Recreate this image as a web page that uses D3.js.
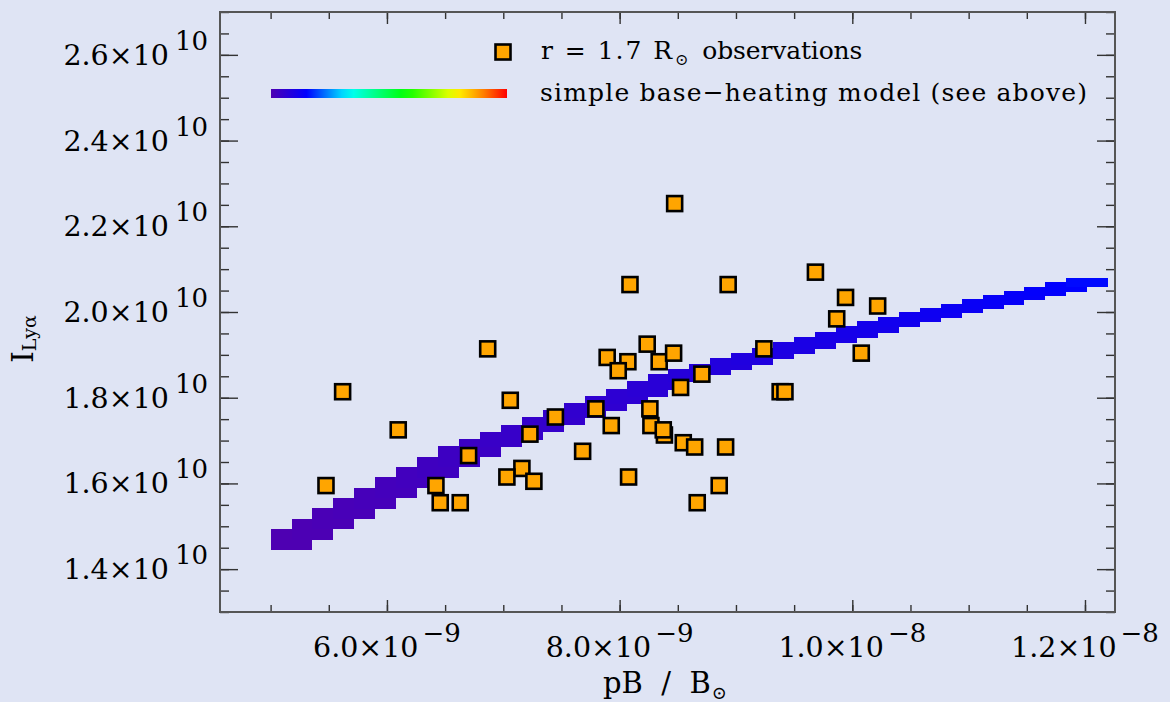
<!DOCTYPE html>
<html><head><meta charset="utf-8">
<script src="https://cdn.jsdelivr.net/npm/d3@7"></script>
<style>html,body{margin:0;padding:0;background:#dfe4f4;} svg{display:block;}</style>
</head><body>
<svg id="chart" width="1170" height="702"></svg>
<script>
// ---------- data ----------
// observations at r = 1.7 Rsun  (pB/Bsun, I_Lya)
const obsX = [6.866e-9,5.619e-9,7.060e-9,7.448e-9,6.097e-9,7.229e-9,6.702e-9,7.160e-9,7.031e-9,7.263e-9,
  5.476e-9,6.421e-9,6.458e-9,6.630e-9,8.473e-9,9.683e-9,8.089e-9,8.933e-9,9.942e-9,1.0218e-8,
  9.866e-9,9.240e-9,1.0077e-8,8.237e-9,7.893e-9,8.071e-9,7.988e-9,8.340e-9,8.464e-9,8.707e-9,
  8.524e-9,9.380e-9,9.421e-9,7.796e-9,8.260e-9,7.928e-9,8.269e-9,8.385e-9,8.375e-9,8.547e-9,
  8.645e-9,8.911e-9,7.682e-9,8.077e-9,8.856e-9,8.667e-9];
const obsY = [1.914e10,1.814e10,1.794e10,1.755e10,1.725e10,1.715e10,1.665e10,1.635e10,1.615e10,1.605e10,
  1.595e10,1.595e10,1.555e10,1.555e10,2.253e10,2.093e10,2.064e10,2.064e10,2.034e10,2.014e10,
  1.984e10,1.914e10,1.904e10,1.925e10,1.894e10,1.884e10,1.863e10,1.884e10,1.904e10,1.855e10,
  1.824e10,1.814e10,1.814e10,1.774e10,1.774e10,1.735e10,1.735e10,1.713e10,1.725e10,1.695e10,
  1.685e10,1.685e10,1.675e10,1.615e10,1.595e10,1.555e10];

// simple base-heating model: pB, upper/lower I_Lya, colour-table index
const modelX = [5.18e-9,5.36e-9,5.54e-9,5.72e-9,5.90e-9,6.08e-9,6.26e-9,6.44e-9,6.62e-9,6.80e-9,
  6.98e-9,7.16e-9,7.34e-9,7.52e-9,7.70e-9,7.88e-9,8.06e-9,8.24e-9,8.42e-9,8.60e-9,
  8.78e-9,8.96e-9,9.14e-9,9.32e-9,9.50e-9,9.68e-9,9.86e-9,1.004e-8,1.022e-8,1.040e-8,
  1.058e-8,1.076e-8,1.094e-8,1.112e-8,1.130e-8,1.148e-8,1.166e-8,1.184e-8,1.202e-8];
const modelUpper = [1.494e10,1.517e10,1.543e10,1.566e10,1.589e10,1.615e10,1.638e10,1.662e10,1.687e10,1.704e10,
  1.720e10,1.736e10,1.755e10,1.771e10,1.788e10,1.804e10,1.820e10,1.839e10,1.855e10,1.867e10,
  1.879e10,1.893e10,1.904e10,1.916e10,1.930e10,1.942e10,1.953e10,1.967e10,1.979e10,1.988e10,
  2.000e10,2.009e10,2.019e10,2.030e10,2.040e10,2.049e10,2.058e10,2.070e10,2.079e10];
const modelLower = [1.445e10,1.468e10,1.494e10,1.517e10,1.540e10,1.566e10,1.589e10,1.613e10,1.638e10,1.662e10,
  1.685e10,1.701e10,1.720e10,1.736e10,1.753e10,1.769e10,1.785e10,1.802e10,1.818e10,1.837e10,
  1.853e10,1.865e10,1.876e10,1.890e10,1.902e10,1.914e10,1.928e10,1.939e10,1.951e10,1.965e10,
  1.977e10,1.986e10,1.998e10,2.007e10,2.016e10,2.028e10,2.037e10,2.047e10,2.058e10];
const modelColorIndex = [0.000,0.004,0.008,0.012,0.016,0.020,0.024,0.028,0.032,0.036,
  0.040,0.044,0.048,0.052,0.056,0.060,0.064,0.068,0.072,0.076,
  0.080,0.084,0.088,0.092,0.096,0.100,0.104,0.108,0.112,0.116,
  0.120,0.124,0.128,0.132,0.136,0.140,0.144,0.150,0.156];

const xMajorTicks = [6e-9, 8e-9, 1e-8, 1.2e-8];
const xTickBase = ["6.0\u00d710", "8.0\u00d710", "1.0\u00d710", "1.2\u00d710"];
const xTickExp = ["\u22129", "\u22129", "\u22128", "\u22128"];
const yMajorTicks = [1.4e10, 1.6e10, 1.8e10, 2.0e10, 2.2e10, 2.4e10, 2.6e10];
const yTickBase = ["1.4\u00d710", "1.6\u00d710", "1.8\u00d710", "2.0\u00d710", "2.2\u00d710", "2.4\u00d710", "2.6\u00d710"];
const yTickExp = ["10", "10", "10", "10", "10", "10", "10"];

// rainbow colour table (purple -> red)
const ctStops = [0, 0.15, 0.33, 0.57, 0.78, 0.88, 1.0];
const ctColors = ["#4e00b2", "#0000ff", "#00ffff", "#00ff00", "#ffff00", "#ff9800", "#ff0000"];

// ---------- layout ----------
const L = 220, R = 1115, T = 12, B = 612;
const FONT = "'DejaVu Serif', serif";
const INK = "#000";
const svg = d3.select("#chart");
svg.append("rect").attr("width", 1170).attr("height", 702).attr("fill", "#dfe4f4");

const x = d3.scaleLinear().domain([4.565e-9, 1.2258e-8]).range([L, R]);
const y = d3.scaleLinear().domain([1.3e10, 2.7e10]).range([B, T]);
const ct = d3.scaleLinear().domain(ctStops).range(ctColors).interpolate(d3.interpolateRgb);

// ---------- model band ----------
const mg = svg.append("g").attr("shape-rendering", "crispEdges");
modelX.forEach((mx, i) => {
  const step = x(modelX[1]) - x(modelX[0]);
  mg.append("rect")
    .attr("x", x(mx) - step)
    .attr("width", 2 * step)
    .attr("y", y(modelUpper[i]))
    .attr("height", y(modelLower[i]) - y(modelUpper[i]))
    .attr("fill", ct(modelColorIndex[i]));
});

// ---------- observations ----------
const S = 15;
svg.append("g").selectAll("rect").data(obsX.map((d, i) => [d, obsY[i]])).join("rect")
  .attr("x", d => x(d[0]) - S / 2).attr("y", d => y(d[1]) - S / 2)
  .attr("width", S).attr("height", S)
  .attr("fill", "#ffa500").attr("stroke", "#000").attr("stroke-width", 2.6);

// ---------- axes ----------
const xMinor = d3.range(4.5e-9, 1.24e-8, 0.5e-9).filter(v => v >= x.domain()[0] && v <= x.domain()[1]);
const yMinor = d3.range(1.3e10, 2.7001e10, 0.05e10);
function styleAxis(g) {
  g.select(".domain").remove();
  g.selectAll("line").attr("stroke", "#333").attr("stroke-width", 1.4);
  g.selectAll("text").remove();
}
const axes = [
  [d3.axisBottom(x).tickValues(xMinor).tickSize(-7), `translate(0,${B})`],
  [d3.axisBottom(x).tickValues(xMajorTicks).tickSize(-12), `translate(0,${B})`],
  [d3.axisTop(x).tickValues(xMinor).tickSize(-7), `translate(0,${T})`],
  [d3.axisTop(x).tickValues(xMajorTicks).tickSize(-12), `translate(0,${T})`],
  [d3.axisLeft(y).tickValues(yMinor).tickSize(-9), `translate(${L},0)`],
  [d3.axisLeft(y).tickValues(yMajorTicks).tickSize(-18), `translate(${L},0)`],
  [d3.axisRight(y).tickValues(yMinor).tickSize(-9), `translate(${R},0)`],
  [d3.axisRight(y).tickValues(yMajorTicks).tickSize(-18), `translate(${R},0)`]
];
axes.forEach(([ax, tr]) => svg.append("g").attr("transform", tr).call(ax).call(styleAxis));

svg.append("rect").attr("x", L).attr("y", T).attr("width", R - L).attr("height", B - T)
  .attr("fill", "none").attr("stroke", "#555").attr("stroke-width", 2);

// tick labels
xMajorTicks.forEach((v, i) => {
  const t = svg.append("text").attr("x", x(v)).attr("y", 657).attr("text-anchor", "middle")
    .attr("font-family", FONT).attr("font-size", 28.5).attr("fill", INK);
  t.append("tspan").text(xTickBase[i]);
  t.append("tspan").attr("dy", -15).attr("dx", 4).attr("font-size", 26).text(xTickExp[i]);
});
yMajorTicks.forEach((v, i) => {
  const t = svg.append("text").attr("x", 208).attr("y", y(v) + 10).attr("text-anchor", "end")
    .attr("font-family", FONT).attr("font-size", 28.5).attr("fill", INK);
  t.append("tspan").text(yTickBase[i]);
  t.append("tspan").attr("dy", -15).attr("dx", 6).attr("font-size", 26).text(yTickExp[i]);
});

// axis titles
const xt = svg.append("text").attr("x", 603).attr("y", 693)
  .attr("font-family", FONT).attr("font-size", 29).attr("fill", INK).attr("xml:space", "preserve");
xt.append("tspan").text("pB  /  B");
xt.append("tspan").attr("dy", 6).attr("dx", 1).attr("font-size", 18).text("\u2299");

const yt = svg.append("text").attr("transform", "translate(33,363) rotate(-90)")
  .attr("font-family", FONT).attr("font-size", 30).attr("fill", INK);
yt.append("tspan").text("I");
yt.append("tspan").attr("dy", 3).attr("font-size", 19).text("Ly\u03b1");

// ---------- legend ----------
svg.append("rect").attr("x", 503 - S / 2).attr("y", 52 - S / 2).attr("width", S).attr("height", S)
  .attr("fill", "#ffa500").attr("stroke", "#000").attr("stroke-width", 2.6);
const l1 = svg.append("text").attr("x", 541).attr("y", 59)
  .attr("font-family", FONT).attr("font-size", 25).attr("fill", INK);
l1.append("tspan").attr("textLength", 131).attr("lengthAdjust", "spacing").text("r = 1.7 R");
l1.append("tspan").attr("dy", 6).attr("dx", 1).attr("font-size", 16).text("\u2299");
l1.append("tspan").attr("dy", -6).attr("dx", 14).attr("textLength", 160).attr("lengthAdjust", "spacing").text("observations");

const grad = svg.append("defs").append("linearGradient").attr("id", "ctgrad");
d3.range(0, 1.0001, 0.05).forEach(f => grad.append("stop").attr("offset", f).attr("stop-color", ct(f)));
svg.append("rect").attr("x", 271).attr("y", 89).attr("width", 236).attr("height", 9).attr("fill", "url(#ctgrad)");
svg.append("text").attr("x", 540).attr("y", 101)
  .attr("font-family", FONT).attr("font-size", 25).attr("fill", INK)
  .attr("textLength", 547).attr("lengthAdjust", "spacing")
  .text("simple base\u2212heating model (see above)");
</script>
</body></html>
